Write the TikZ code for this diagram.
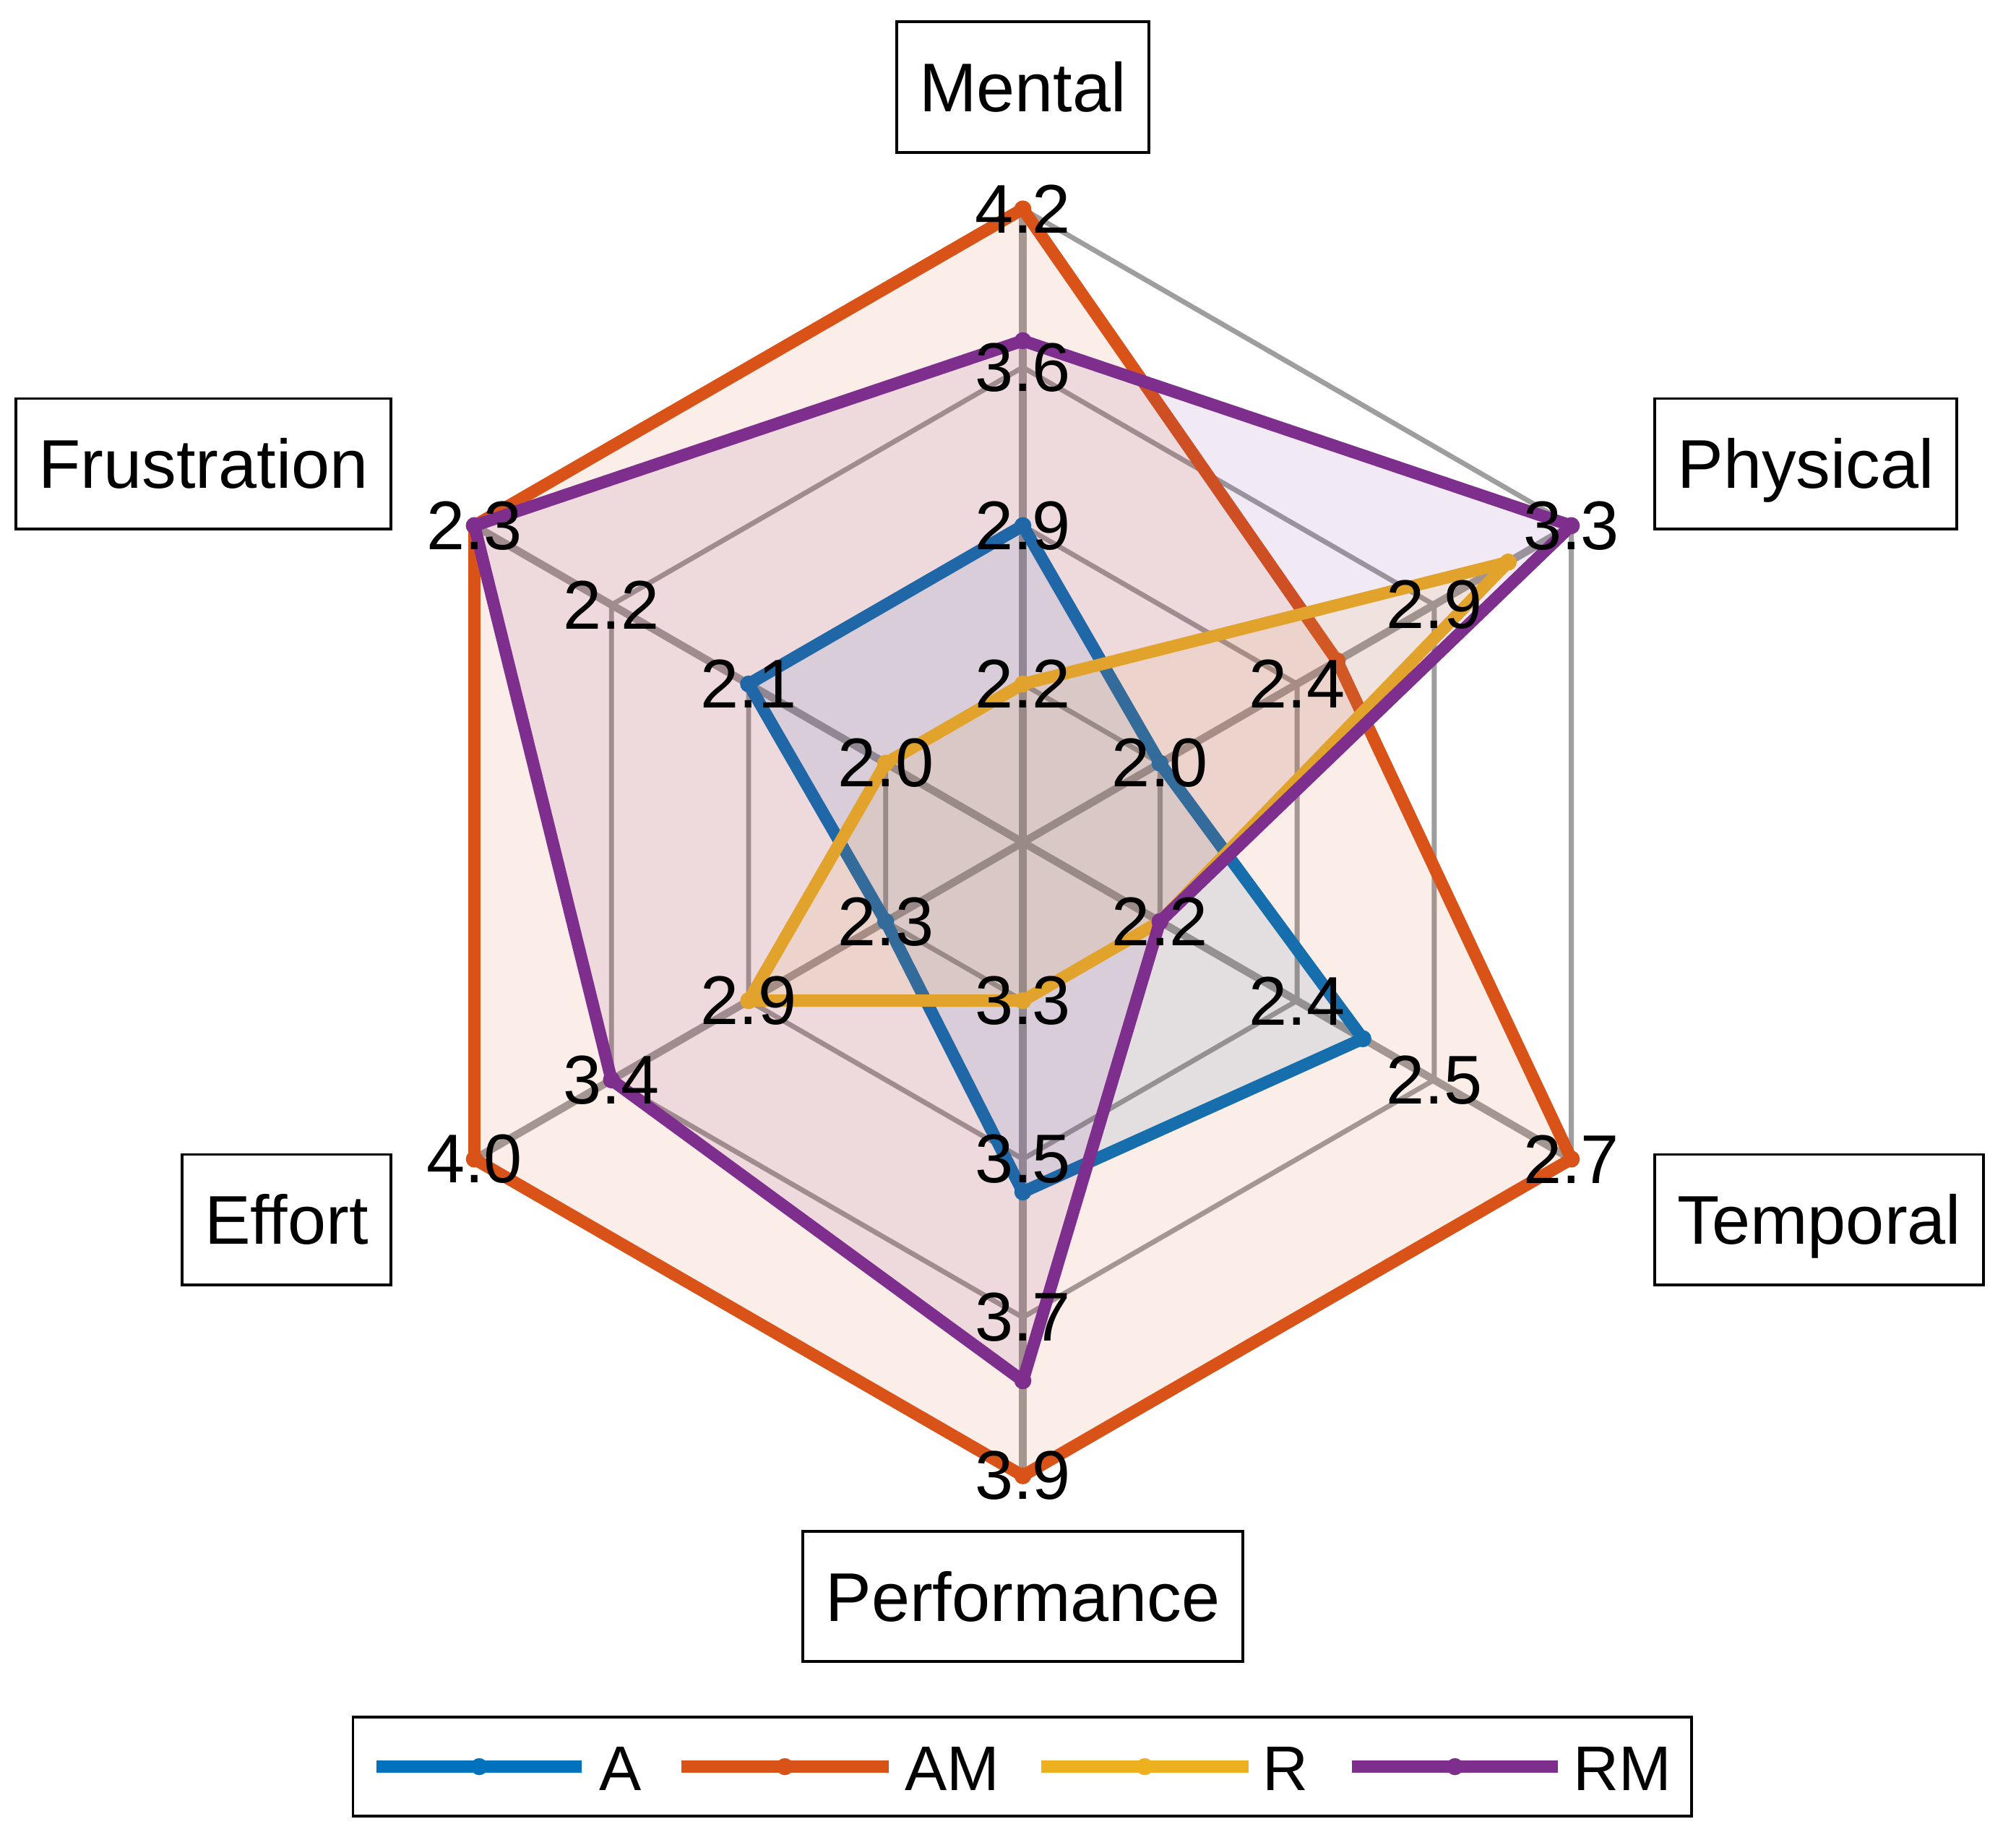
\documentclass[tikz,border=0pt]{standalone}
\usepackage{fontspec}
\setmainfont{Liberation Sans}
\usetikzlibrary{calc}
\definecolor{cA}{HTML}{0072BD}
\definecolor{cAM}{HTML}{D95319}
\definecolor{cR}{HTML}{EDB120}
\definecolor{cRM}{HTML}{7E2F8E}
\definecolor{gridc}{RGB}{158,158,158}
\newcommand\labfont{\fontsize{15.2pt}{18pt}\selectfont}
\newcommand\legfont{\fontsize{13.9pt}{16pt}\selectfont}
\newcommand\spiderdata[3]{%
  \foreach \rr [count=\kk] in {#3} {%
    \coordinate (#1-\kk) at ({491*\rr*cos(150-60*\kk)},{-491*\rr*sin(150-60*\kk)});
  }%
  \fill[#2, fill opacity=0.1] (#1-1) -- (#1-2) -- (#1-3) -- (#1-4) -- (#1-5) -- (#1-6) -- cycle;
  \draw[dataline, draw=#2] (#1-1) -- (#1-2) -- (#1-3) -- (#1-4) -- (#1-5) -- (#1-6) -- cycle;
  \foreach \kk in {1,...,6} {\fill[#2] (#1-\kk) circle[radius=0.066cm];}%
}
\tikzset{
  ring/.style={draw=gridc, line width=1.1pt, line join=round},
  spoke/.style={draw=gridc, line width=1.7pt},
  dataline/.style={line width=2.7pt, line join=round},
  legline/.style={line width=2.7pt},
  numlab/.style={font=\labfont, inner sep=0pt, anchor=center},
  axbox/.style={draw=black, line width=0.6pt, inner xsep=0.175cm, inner ysep=0pt,
    minimum height=1.01cm, text height=10.9pt, text depth=0pt, font=\labfont},
  legtext/.style={font=\legfont, inner sep=0pt, anchor=base west},
}
\begin{document}
\begin{tikzpicture}[x=0.01cm, y=-0.01cm]
\useasboundingbox (0,0) rectangle (1563,1429.7);
\fill[white] (0,0) rectangle (1563,1429.7);

\begin{scope}[shift={(793,653)}]
  \coordinate (O) at (0,0);
  % grid coordinates
  \foreach \a [count=\k] in {90,30,-30,-90,-150,150} {
    \foreach \r [count=\j] in {0.25,0.5,0.75,1} {
      \coordinate (g\j-\k) at ({491*\r*cos(\a)},{-491*\r*sin(\a)});
    }
  }
  % rings
  \foreach \j in {1,...,4} {
    \draw[ring] (g\j-1) -- (g\j-2) -- (g\j-3) -- (g\j-4) -- (g\j-5) -- (g\j-6) -- cycle;
  }
  % spokes
  \foreach \k in {1,...,6} {\draw[spoke] (O) -- (g4-\k);}

  % data sets
  \spiderdata{A}{cA}{0.5,0.25,0.62,0.552,0.25,0.5}
  \spiderdata{AM}{cAM}{1,0.573,1,1,1,1}
  \spiderdata{R}{cR}{0.25,0.885,0.25,0.25,0.5,0.25}
  \spiderdata{RM}{cRM}{0.792,1,0.25,0.85,0.75,1}

  % axis tick labels
  \foreach \k/\labs in {1/{2.2,2.9,3.6,4.2}, 2/{2.0,2.4,2.9,3.3}, 3/{2.2,2.4,2.5,2.7},
                        4/{3.3,3.5,3.7,3.9}, 5/{2.3,2.9,3.4,4.0}, 6/{2.0,2.1,2.2,2.3}} {
    \foreach \t [count=\j] in \labs {
      \node[numlab] (n\k-\j) at (g\j-\k) {\t};
    }
  }
\end{scope}

% axis labels
\node[axbox, anchor=center] (mental) at (793,67.5) {Mental};
\node[axbox, anchor=west] (physical) at (1282,359.5) {Physical};
\node[axbox, anchor=west] (temporal) at (1282,945.5) {Temporal};
\node[axbox, anchor=center] (performance) at (793,1237.5) {Performance};
\node[axbox, anchor=east] (effort) at (304,945.5) {Effort};
\node[axbox, anchor=east] (frustration) at (304,359.5) {Frustration};

% legend
\node[draw=black, line width=0.6pt, minimum width=10.37cm, minimum height=0.77cm, inner sep=0pt] (legend) at (792.5,1369.5) {};
\foreach \nm/\col/\xa/\xb/\xt/\lab in {A/cA/292/451/464/A, AM/cAM/528/689/701/AM, R/cR/807/968/978/R, RM/cRM/1048/1208/1219/RM} {
  \coordinate (l\nm-s) at (\xa,1369.5);
  \coordinate (l\nm-e) at (\xb,1369.5);
  \draw[legline, draw=\col] (l\nm-s) -- (l\nm-e);
  \fill[\col] ($(l\nm-s)!0.5!(l\nm-e)$) circle[radius=0.066cm];
  \node[legtext] (t\nm) at (\xt,1388) {\lab};
}
\end{tikzpicture}
\end{document}
